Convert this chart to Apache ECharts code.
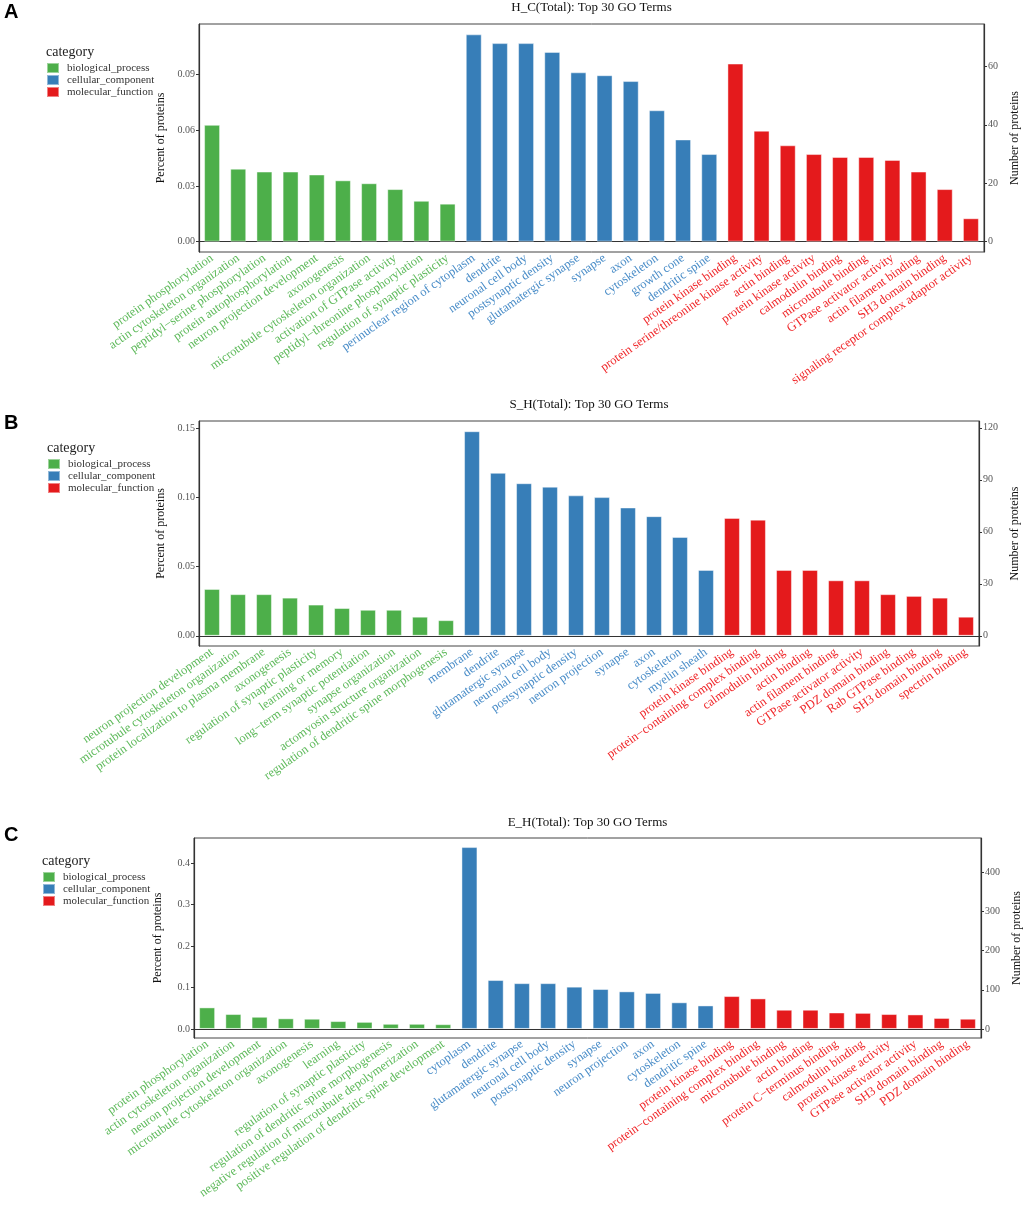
<!DOCTYPE html>
<html>
<head>
<meta charset="utf-8">
<script src="https://cdn.jsdelivr.net/npm/echarts@6/dist/echarts.min.js"></script>
<style>
html, body { margin: 0; padding: 0; background: #fff; }
.panel { position: absolute; left: 0; width: 1024px; }
</style>
</head>
<body>
<div id="panelA" class="panel" style="top:0;height:395px"></div>
<div id="panelB" class="panel" style="top:395px;height:415px"></div>
<div id="panelC" class="panel" style="top:810px;height:396px"></div>
<script>
var groupNames = ['biological_process', 'cellular_component', 'molecular_function'];
var groupColors = ['#4DAF4A', '#377EB8', '#E41A1C'];
var labelColors = ['#5fba5c', '#4a8dc8', '#f0282b'];

// A: H_C
var aBpTerms = ['protein phosphorylation', 'actin cytoskeleton organization', 'peptidyl−serine phosphorylation',
    'protein autophosphorylation', 'neuron projection development', 'axonogenesis',
    'microtubule cytoskeleton organization', 'activation of GTPase activity',
    'peptidyl−threonine phosphorylation', 'regulation of synaptic plasticity'];
var aBpCounts = [40, 25, 24, 24, 23, 21, 20, 18, 14, 13];
var aCcTerms = ['perinuclear region of cytoplasm', 'dendrite', 'neuronal cell body', 'postsynaptic density',
    'glutamatergic synapse', 'synapse', 'axon', 'cytoskeleton', 'growth cone', 'dendritic spine'];
var aCcCounts = [71, 68, 68, 65, 58, 57, 55, 45, 35, 30];
var aMfTerms = ['protein kinase binding', 'protein serine/threonine kinase activity', 'actin binding',
    'protein kinase activity', 'calmodulin binding', 'microtubule binding', 'GTPase activator activity',
    'actin filament binding', 'SH3 domain binding', 'signaling receptor complex adaptor activity'];
var aMfCounts = [61, 38, 33, 30, 29, 29, 28, 24, 18, 8];
var aTotal = 636;
var aPctTicks = [0, 0.03, 0.06, 0.09];
var aNumTicks = [0, 20, 40, 60];

// B: S_H
var bBpTerms = ['neuron projection development', 'microtubule cytoskeleton organization',
    'protein localization to plasma membrane', 'axonogenesis', 'regulation of synaptic plasticity',
    'learning or memory', 'long−term synaptic potentiation', 'synapse organization',
    'actomyosin structure organization', 'regulation of dendritic spine morphogenesis'];
var bBpCounts = [27, 24, 24, 22, 18, 16, 15, 15, 11, 9];
var bCcTerms = ['membrane', 'dendrite', 'glutamatergic synapse', 'neuronal cell body', 'postsynaptic density',
    'neuron projection', 'synapse', 'axon', 'cytoskeleton', 'myelin sheath'];
var bCcCounts = [118, 94, 88, 86, 81, 80, 74, 69, 57, 38];
var bMfTerms = ['protein kinase binding', 'protein−containing complex binding', 'calmodulin binding',
    'actin binding', 'actin filament binding', 'GTPase activator activity', 'PDZ domain binding',
    'Rab GTPase binding', 'SH3 domain binding', 'spectrin binding'];
var bMfCounts = [68, 67, 38, 38, 32, 32, 24, 23, 22, 11];
var bTotal = 799;
var bPctTicks = [0, 0.05, 0.10, 0.15];
var bNumTicks = [0, 30, 60, 90, 120];

// C: E_H
var cBpTerms = ['protein phosphorylation', 'actin cytoskeleton organization', 'neuron projection development',
    'microtubule cytoskeleton organization', 'axonogenesis', 'learning', 'regulation of synaptic plasticity',
    'regulation of dendritic spine morphogenesis', 'negative regulation of microtubule depolymerization',
    'positive regulation of dendritic spine development'];
var cBpCounts = [55, 38, 31, 27, 26, 20, 18, 13, 13, 12];
var cCcTerms = ['cytoplasm', 'dendrite', 'glutamatergic synapse', 'neuronal cell body', 'postsynaptic density',
    'synapse', 'neuron projection', 'axon', 'cytoskeleton', 'dendritic spine'];
var cCcCounts = [465, 125, 117, 117, 108, 102, 96, 92, 68, 60];
var cMfTerms = ['protein kinase binding', 'protein−containing complex binding', 'microtubule binding',
    'actin binding', 'protein C−terminus binding', 'calmodulin binding', 'protein kinase activity',
    'GTPase activator activity', 'SH3 domain binding', 'PDZ domain binding'];
var cMfCounts = [84, 78, 49, 49, 42, 41, 38, 37, 28, 26];
var cTotal = 1061;
var cPctTicks = [0, 0.1, 0.2, 0.3, 0.4];
var cNumTicks = [0, 100, 200, 300, 400];

var serif = "'Liberation Serif', 'DejaVu Serif', serif";

/**
 * build one GO bar panel
 * p: panel settings (terms, counts, ticks, layout)
 */
function createChart(e, p) {
    var myChart = echarts.init(document.getElementById(e));
    var terms = [], groupOf = [];
    p.terms.forEach(function (list, g) {
        list.forEach(function (t) { terms.push(t); groupOf.push(g); });
    });
    var maxCount = 0;
    p.counts.forEach(function (list) {
        list.forEach(function (v) { if (v > maxCount) maxCount = v; });
    });
    // ggplot style 5% padding on both ends
    var lo = -0.05 * maxCount, hi = 1.05 * maxCount;

    var series = groupNames.map(function (name, g) {
        var data = [];
        var k = 0;
        groupOf.forEach(function (gg) {
            data.push(gg === g ? p.counts[g][k++] : '-');
        });
        return {
            name: name,
            type: 'bar',
            stack: 'go',
            yAxisIndex: 1,
            barWidth: '61%',
            itemStyle: {
                color: groupColors[g],
                borderColor: 'rgba(255,255,255,0.45)',
                borderWidth: 1
            },
            data: data
        };
    });

    var grid = p.grid;
    var option = {
        animation: false,
        title: [
            {
                text: p.letter,
                left: 4, top: p.letterTop, padding: 0,
                textStyle: { fontFamily: "'Liberation Sans', Arial, sans-serif", fontWeight: 'bold', fontSize: 20, color: '#000' }
            },
            {
                text: p.title,
                left: grid.left + (1024 - grid.left - grid.right) / 2,
                textAlign: 'center',
                top: p.titleTop, padding: 0,
                textStyle: { fontFamily: serif, fontWeight: 'normal', fontSize: 13, color: '#111' }
            },
            {
                text: 'category',
                left: p.legendLeft, top: p.legendTop - 17, padding: 0,
                textStyle: { fontFamily: serif, fontWeight: 'normal', fontSize: 14, color: '#222' }
            }
        ],
        legend: {
            orient: 'vertical',
            left: p.legendLeft,
            top: p.legendTop,
            padding: 0,
            itemWidth: 12,
            itemHeight: 10,
            itemGap: 0,
            icon: 'rect',
            selectedMode: false,
            data: groupNames,
            textStyle: { fontFamily: serif, fontSize: 11, color: '#333', padding: [0, 0, 0, 3] }
        },
        grid: {
            left: grid.left, right: grid.right, top: grid.top, height: grid.height,
            outerBoundsMode: 'none',
            containLabel: false,
            show: true, borderColor: '#444', borderWidth: 1
        },
        xAxis: {
            type: 'category',
            data: terms,
            axisLine: { lineStyle: { color: '#333', width: 1.2 } },
            axisTick: { alignWithLabel: true, length: 3, lineStyle: { color: '#333' } },
            axisLabel: {
                interval: 0,
                rotate: 35,
                margin: 5,
                fontFamily: serif,
                fontSize: 12.5,
                color: function (v, i) { return labelColors[groupOf[i]]; }
            }
        },
        yAxis: [
            {
                type: 'value',
                position: 'left',
                min: lo / p.total,
                max: hi / p.total,
                name: 'Percent of proteins',
                nameLocation: 'middle',
                nameGap: 30,
                nameTextStyle: { fontFamily: serif, fontSize: 12, color: '#111' },
                axisLine: { show: true, lineStyle: { color: '#333', width: 1.2 } },
                axisTick: { show: true, length: 3, customValues: p.pctTicks, lineStyle: { color: '#333' } },
                axisLabel: {
                    customValues: p.pctTicks,
                    margin: 4,
                    fontFamily: serif, fontSize: 10, color: '#555',
                    formatter: function (v) { return v.toFixed(p.pctDigits); }
                },
                splitLine: { show: false }
            },
            {
                type: 'value',
                position: 'right',
                min: lo,
                max: hi,
                name: 'Number of proteins',
                nameLocation: 'middle',
                nameGap: 24,
                nameRotate: 90,
                nameTextStyle: { fontFamily: serif, fontSize: 12, color: '#111' },
                axisLine: { show: true, lineStyle: { color: '#333', width: 1.2 } },
                axisTick: { show: true, length: 3, customValues: p.numTicks, lineStyle: { color: '#333' } },
                axisLabel: {
                    customValues: p.numTicks,
                    margin: 4,
                    fontFamily: serif, fontSize: 10, color: '#555'
                },
                splitLine: { show: false }
            }
        ],
        series: series
    };
    myChart.setOption(option);
}

createChart('panelA', {
    letter: 'A', letterTop: 2, title: 'H_C(Total): Top 30 GO Terms', titleTop: 1,
    legendLeft: 46, legendTop: 62,
    terms: [aBpTerms, aCcTerms, aMfTerms], counts: [aBpCounts, aCcCounts, aMfCounts],
    total: aTotal, pctTicks: aPctTicks, numTicks: aNumTicks, pctDigits: 2,
    grid: { left: 199, right: 40, top: 24, height: 228 }
});
createChart('panelB', {
    letter: 'B', letterTop: 18, title: 'S_H(Total): Top 30 GO Terms', titleTop: 3,
    legendLeft: 47, legendTop: 63,
    terms: [bBpTerms, bCcTerms, bMfTerms], counts: [bBpCounts, bCcCounts, bMfCounts],
    total: bTotal, pctTicks: bPctTicks, numTicks: bNumTicks, pctDigits: 2,
    grid: { left: 199, right: 45, top: 26, height: 225 }
});
createChart('panelC', {
    letter: 'C', letterTop: 15, title: 'E_H(Total): Top 30 GO Terms', titleTop: 6,
    legendLeft: 42, legendTop: 61,
    terms: [cBpTerms, cCcTerms, cMfTerms], counts: [cBpCounts, cCcCounts, cMfCounts],
    total: cTotal, pctTicks: cPctTicks, numTicks: cNumTicks, pctDigits: 1,
    grid: { left: 194, right: 43, top: 28, height: 200 }
});
</script>
</body>
</html>
